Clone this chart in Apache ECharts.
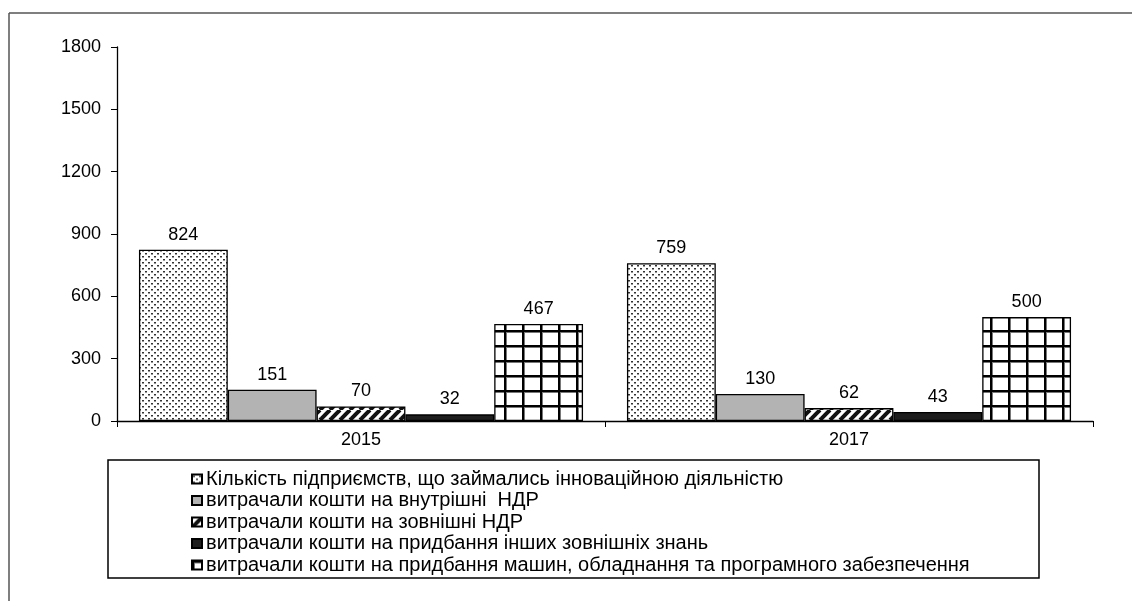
<!DOCTYPE html>
<html><head><meta charset="utf-8">
<script src="https://cdn.jsdelivr.net/npm/echarts@6/dist/echarts.min.js"></script>
<style>html,body{margin:0;padding:0;background:#fff}#c{width:1132px;height:601px}</style>
</head><body><div id="c"></div>
<script>
const categories = ['2015', '2017'];
const seriesNames = [
  'Кількість підприємств, що займались інноваційною діяльністю',
  'витрачали кошти на внутрішні  НДР',
  'витрачали кошти на зовнішні НДР',
  'витрачали кошти на придбання інших зовнішніх знань',
  'витрачали кошти на придбання машин, обладнання та програмного забезпечення'
];
const enterprises = [824, 759];
const internalRD = [151, 130];
const externalRD = [70, 62];
const otherKnowledge = [32, 43];
const machinery = [467, 500];
const yTicks = [0, 300, 600, 900, 1200, 1500, 1800];

function tile(w, h, draw) {
  const c = document.createElement('canvas');
  c.width = w; c.height = h;
  const g = c.getContext('2d');
  draw(g, w, h);
  return { image: c, repeat: 'repeat' };
}
const dots = tile(6, 6, (g) => {
  g.fillStyle = '#fff'; g.fillRect(0, 0, 6, 6);
  g.fillStyle = '#333';
  g.fillRect(1, 1, 2, 1.5);
  g.fillRect(4, 4, 2, 1.5);
});
const hatch = tile(10, 10, (g) => {
  g.fillStyle = '#fff'; g.fillRect(0, 0, 10, 10);
  g.strokeStyle = '#111'; g.lineWidth = 4;
  for (let k = -10; k <= 20; k += 10) {
    g.beginPath(); g.moveTo(k, 10); g.lineTo(k + 10, 0); g.stroke();
  }
});
const gridPat = tile(18, 15, (g) => {
  g.fillStyle = '#fff'; g.fillRect(0, 0, 18, 15);
  g.fillStyle = '#777';
  g.fillRect(0, 0, 3, 15);
  g.fillRect(0, 0, 18, 3);
  g.fillStyle = '#000';
  g.fillRect(0, 0, 2, 15);
  g.fillRect(0, 0, 18, 2);
});
const fills = [dots, '#b3b3b3', hatch, '#1e1e1e', gridPat];
const dataSets = [enterprises, internalRD, externalRD, otherKnowledge, machinery];

const chart = echarts.init(document.getElementById('c'));
chart.setOption({
  animation: false,
  textStyle: { fontFamily: 'Liberation Sans, Arial, sans-serif' },
  grid: { left: 117, top: 47, width: 976, height: 374 },
  xAxis: {
    type: 'category', data: categories,
    axisLine: { lineStyle: { color: '#000', width: 1.3 } },
    axisTick: { show: true, length: 6, lineStyle: { color: '#000' } },
    axisLabel: { color: '#000', fontSize: 18, margin: 10 }
  },
  yAxis: {
    type: 'value', min: 0, max: 1800, interval: 300,
    splitLine: { show: false },
    axisLine: { show: true, lineStyle: { color: '#000', width: 1.3 } },
    axisTick: { show: true, length: 6, lineStyle: { color: '#000' } },
    axisLabel: { color: '#000', fontSize: 18, margin: 16,
      formatter: (v) => yTicks.includes(v) ? String(v) : '' }
  },
  legend: {
    orient: 'vertical', left: 186, top: 464,
    itemWidth: 10, itemHeight: 9, itemGap: 1.5,
    icon: 'rect',
    textStyle: { color: '#000', fontSize: 20, padding: [0, 0, 0, -1], lineHeight: 18 },
    data: seriesNames
  },
  graphic: [
    { type: 'line', shape: { x1: 9, y1: 13, x2: 1132, y2: 13 }, style: { stroke: '#555', lineWidth: 1.5 } },
    { type: 'line', shape: { x1: 9, y1: 13, x2: 9, y2: 601 }, style: { stroke: '#555', lineWidth: 1.5 } },
    { type: 'rect', shape: { x: 108, y: 460, width: 931, height: 118 }, style: { fill: 'none', stroke: '#000', lineWidth: 1.5 }, z: 100 }
  ],
  series: dataSets.map((d, i) => ({
    name: seriesNames[i], type: 'bar', data: d,
    barGap: '0%', barCategoryGap: '9%',
    itemStyle: { color: fills[i], borderColor: '#000', borderWidth: 1.3 },
    label: { show: true, position: 'top', distance: 6, color: '#000', fontSize: 18 }
  }))
});
</script></body></html>
